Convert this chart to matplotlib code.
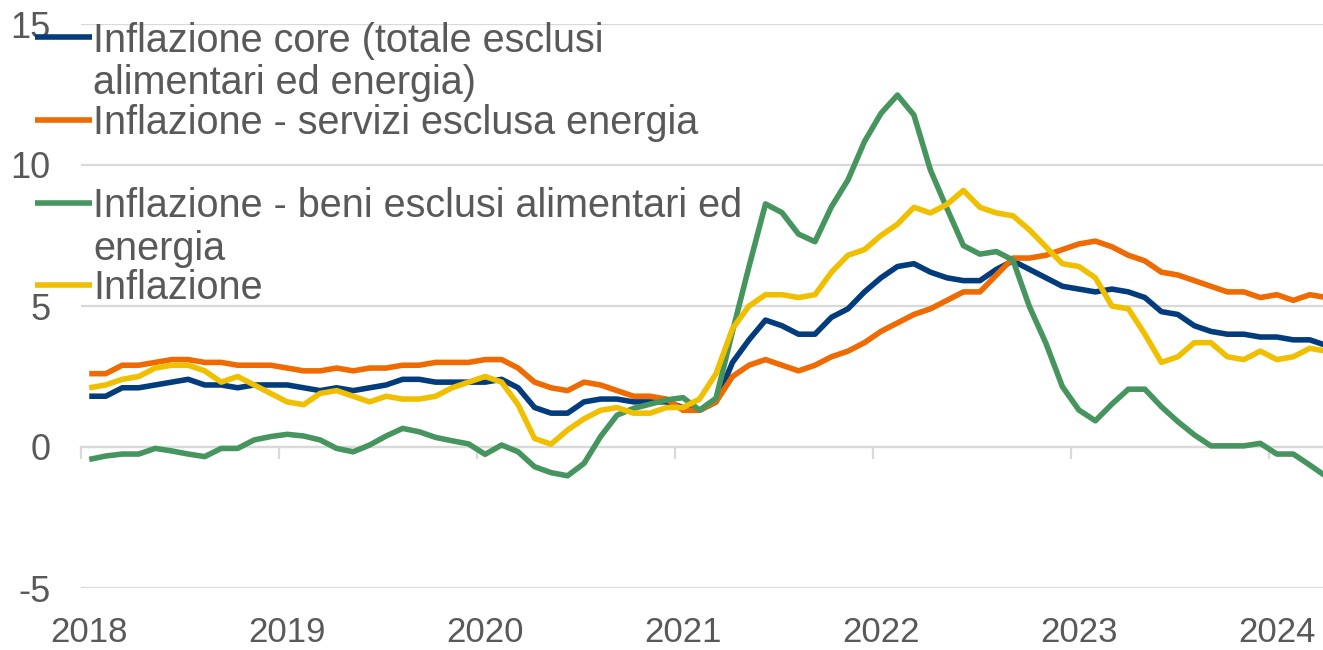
import matplotlib
matplotlib.use("Agg")
import matplotlib.pyplot as plt
from matplotlib.lines import Line2D
import numpy as np

# ---------------- data (monthly, Jan 2018 - Apr 2024) ----------------
years = ["2018", "2019", "2020", "2021", "2022", "2023", "2024"]

core = [1.8, 1.8, 2.1, 2.1, 2.2, 2.3, 2.4, 2.2, 2.2, 2.1, 2.2, 2.2,
        2.2, 2.1, 2.0, 2.1, 2.0, 2.1, 2.2, 2.4, 2.4, 2.3, 2.3, 2.3,
        2.3, 2.4, 2.1, 1.4, 1.2, 1.2, 1.6, 1.7, 1.7, 1.6, 1.6, 1.6,
        1.4, 1.3, 1.6, 3.0, 3.8, 4.5, 4.3, 4.0, 4.0, 4.6, 4.9, 5.5,
        6.0, 6.4, 6.5, 6.2, 6.0, 5.9, 5.9, 6.3, 6.6, 6.3, 6.0, 5.7,
        5.6, 5.5, 5.6, 5.5, 5.3, 4.8, 4.7, 4.3, 4.1, 4.0, 4.0, 3.9,
        3.9, 3.8, 3.8, 3.6]

services = [2.6, 2.6, 2.9, 2.9, 3.0, 3.1, 3.1, 3.0, 3.0, 2.9, 2.9, 2.9,
            2.8, 2.7, 2.7, 2.8, 2.7, 2.8, 2.8, 2.9, 2.9, 3.0, 3.0, 3.0,
            3.1, 3.1, 2.8, 2.3, 2.1, 2.0, 2.3, 2.2, 2.0, 1.8, 1.8, 1.7,
            1.3, 1.3, 1.6, 2.5, 2.9, 3.1, 2.9, 2.7, 2.9, 3.2, 3.4, 3.7,
            4.1, 4.4, 4.7, 4.9, 5.2, 5.5, 5.5, 6.1, 6.7, 6.7, 6.8, 7.0,
            7.2, 7.3, 7.1, 6.8, 6.6, 6.2, 6.1, 5.9, 5.7, 5.5, 5.5, 5.3,
            5.4, 5.2, 5.4, 5.3]

goods = [-0.44, -0.32, -0.25, -0.25, -0.05, -0.14, -0.25, -0.34, -0.05, -0.05, 0.25, 0.37,
         0.45, 0.39, 0.25, -0.05, -0.17, 0.07, 0.39, 0.66, 0.54, 0.34, 0.22, 0.11,
         -0.26, 0.07, -0.17, -0.70, -0.91, -1.02, -0.58, 0.37, 1.13, 1.37, 1.52, 1.67,
         1.75, 1.31, 1.73, 4.1, 6.4, 8.62, 8.31, 7.55, 7.28, 8.52, 9.47, 10.83,
         11.83, 12.48, 11.77, 9.82, 8.46, 7.14, 6.84, 6.93, 6.63, 4.98, 3.68, 2.14,
         1.31, 0.93, 1.52, 2.05, 2.05, 1.43, 0.90, 0.43, 0.04, 0.04, 0.04, 0.13,
         -0.25, -0.25, -0.64, -1.05]

headline = [2.1, 2.2, 2.4, 2.5, 2.8, 2.9, 2.9, 2.7, 2.3, 2.5, 2.2, 1.9,
            1.6, 1.5, 1.9, 2.0, 1.8, 1.6, 1.8, 1.7, 1.7, 1.8, 2.1, 2.3,
            2.5, 2.3, 1.5, 0.3, 0.1, 0.6, 1.0, 1.3, 1.4, 1.2, 1.2, 1.4,
            1.4, 1.7, 2.6, 4.2, 5.0, 5.4, 5.4, 5.3, 5.4, 6.2, 6.8, 7.0,
            7.5, 7.9, 8.5, 8.3, 8.6, 9.1, 8.5, 8.3, 8.2, 7.7, 7.1, 6.5,
            6.4, 6.0, 5.0, 4.9, 4.0, 3.0, 3.2, 3.7, 3.7, 3.2, 3.1, 3.4,
            3.1, 3.2, 3.5, 3.4]

labels = ["Inflazione core (totale esclusi\nalimentari ed energia)",
          "Inflazione - servizi esclusa energia",
          "Inflazione - beni esclusi alimentari ed\nenergia",
          "Inflazione"]
yticks = [-5, 0, 5, 10, 15]

# ---------------- style ----------------
colors = ["#023C7C", "#EF6A00", "#46955E", "#F0C000"]
txt_color = "#595959"
grid_color = "#D9D9D9"
font = "Liberation Sans"
lw = 4.0

W, H = 1323, 650
fig = plt.figure(figsize=(W / 100, H / 100), dpi=100)
ax = fig.add_axes([81 / W, (H - 588) / H, (W - 81) / W, 564 / H])

x = np.arange(len(core))
for s, c in zip([core, services, goods, headline], colors):
    ax.plot(x, s, color=c, lw=lw, solid_joinstyle="round", solid_capstyle="butt", zorder=3)

ax.set_xlim(-0.5, 74.8)
ax.set_ylim(-5, 15)
ax.set_yticks(yticks)
ax.set_yticklabels([str(v) for v in yticks], family=font)
ax.set_xticks(np.arange(0, len(core), 12))
ax.set_xticklabels(years, family=font)
ax.tick_params(axis="x", length=0, pad=20, labelsize=25, labelcolor=txt_color)
ax.tick_params(axis="y", length=0, pad=22, labelsize=26, labelcolor=txt_color)
for sp in ax.spines.values():
    sp.set_visible(False)
ax.grid(axis="y", color=grid_color, lw=1.6)
ax.grid(axis="x", visible=False)
ax.set_axisbelow(True)

# category axis crossing at zero with year-boundary tick marks
sec = ax.secondary_xaxis(0, transform=ax.transData)
sec.set_xticks(np.arange(-0.5, len(core), 12))
sec.set_xticklabels([])
sec.tick_params(axis="x", length=8.5, width=1.6, color=grid_color, direction="out")
for name, sp in sec.spines.items():
    sp.set_color(grid_color)
    sp.set_linewidth(1.6)

# ---------------- legend (manual, top-left) ----------------
handle_y = [37, 120, 203, 285]
baselines = [[52, 94], [134], [217, 260], [299]]
for lab, c, hy, bls in zip(labels, colors, handle_y, baselines):
    fig.add_artist(Line2D([35 / W, 92 / W], [1 - hy / H, 1 - hy / H], color=c, lw=lw,
                          solid_capstyle="butt"))
    for line, by in zip(lab.split("\n"), bls):
        fig.text(93 / W, 1 - by / H, line, fontsize=28.5, color=txt_color,
                 va="baseline", ha="left", family=font)

fig.savefig("out.png", dpi=100)
